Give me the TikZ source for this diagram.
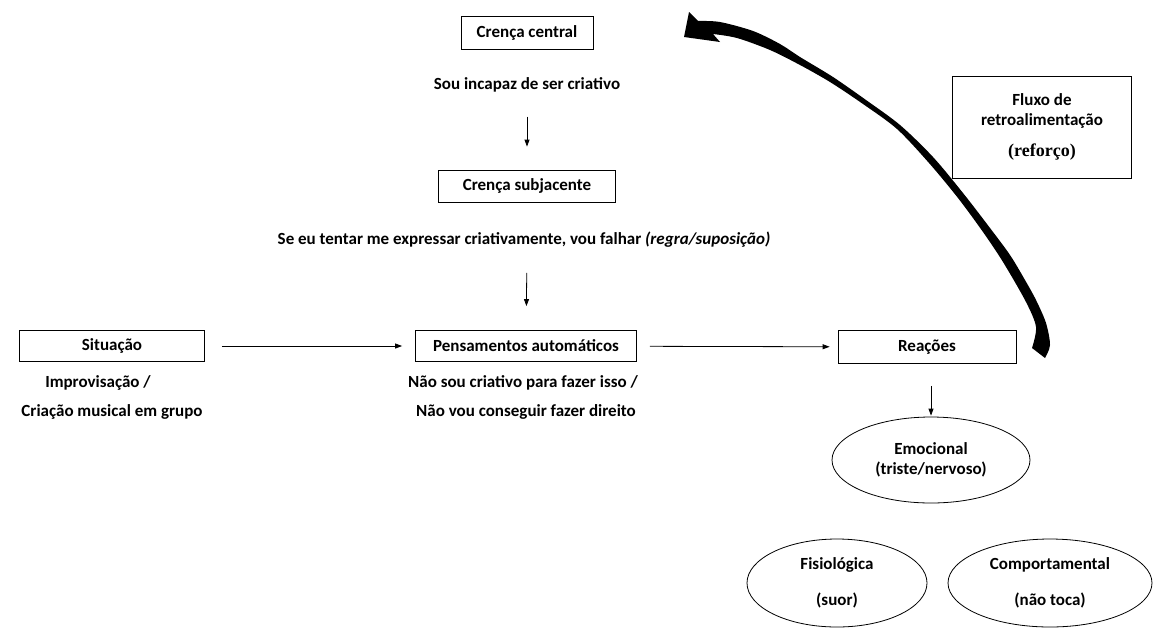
\documentclass[tikz,border=0pt]{standalone}
\usepackage{fontspec}
\setmainfont{Carlito}
\newfontfamily\reforcofont{Liberation Serif}
\usetikzlibrary{arrows.meta,shapes.geometric}

\begin{document}
\begin{tikzpicture}[x=1pt,y=-1pt,
    font=\fontsize{17}{20}\selectfont\bfseries,
    box/.style={draw, line width=0.8pt, inner sep=0pt, align=center},
    bubble/.style={ellipse, draw, line width=0.8pt, inner sep=0pt, align=center},
    txt/.style={inner sep=0pt, align=center},
    flow/.style={-{Triangle[length=7pt,width=5pt]}, line width=0.8pt}]

  \useasboundingbox (0,0) rectangle (1154,641);

  % boxes
  \begin{scope}[every node/.style={box}]
    \node[minimum width=132, minimum height=33] (central)    at (527,33)  {Crença central};
    \node[minimum width=177, minimum height=32] (subjacente) at (527,186) {Crença subjacente};
    \node[minimum width=185, minimum height=31] (situacao)   at (112,346) {Situação};
    \node[minimum width=221, minimum height=31] (pensamento) at (526,346) {Pensamentos automáticos};
    \node[minimum width=178, minimum height=33] (reacoes)    at (927,347) {Reações};
    \node[minimum width=179, minimum height=102] (fluxo)     at (1042,127)
      {Fluxo de\\retroalimentação\\[11pt]{\reforcofont\fontsize{18}{20}\selectfont(reforço)}};
  \end{scope}

  % texts under the boxes
  \begin{scope}[every node/.style={txt}]
    \node (crenca)  at (527,85)  {Sou incapaz de ser criativo};
    \node (regra)   at (524,240) {Se eu tentar me expressar criativamente, vou falhar \textit{(regra/suposição)}};
    \node (improv)  at (98,383)  {Improvisação /};
    \node (criacao) at (112,412) {Criação musical em grupo};
    \node (naosou)  at (523,383) {Não sou criativo para fazer isso /};
    \node (naovou)  at (526,412) {Não vou conseguir fazer direito};
  \end{scope}

  % reactions
  \begin{scope}[every node/.style={bubble}]
    \node[minimum width=198, minimum height=86] (emocional) at (931,460)
      {Emocional\\[0pt](triste/nervoso)};
    \node[minimum width=180, minimum height=88] (fisiologica) at (837,583)
      {Fisiológica\\[16pt](suor)};
    \node[minimum width=204, minimum height=88] (comportamental) at (1050,583)
      {Comportamental\\[16pt](não toca)};
  \end{scope}

  % arrows
  \draw[flow, shorten <=24pt, shorten >=23pt] (crenca) -- (subjacente);
  \draw[flow, shorten <=25pt, shorten >=24pt] (regra.south -| subjacente) -- (pensamento);
  \draw[flow, shorten <=17pt, shorten >=13pt] (situacao) -- (pensamento);
  \draw[flow, shorten <=13pt, shorten >=8pt]  (pensamento) -- (reacoes);
  \draw[flow, shorten <=22pt, shorten >=1pt]  (reacoes.south -| emocional) -- (emocional);

  % feedback arrow
  \fill plot[smooth] coordinates {(698,21) (720,22) (753,31) (780,44) (800,57) (833,77)
      (866,100) (900,125) (933,157) (963,193) (990,228) (1010,255) (1025,280)
      (1036,300) (1046,323) (1050,345) (1045,358)}
    -- (1032,348)
    -- plot[smooth] coordinates {(1032,348) (1036,327) (1026,302) (1003,262) (983,232)
      (958,198) (929,163) (897,129) (863,104) (830,82) (800,65) (770,50) (737,38) (713,34)}
    -- (720,42) -- (684,37) -- (689,12) -- cycle;

\end{tikzpicture}
\end{document}
